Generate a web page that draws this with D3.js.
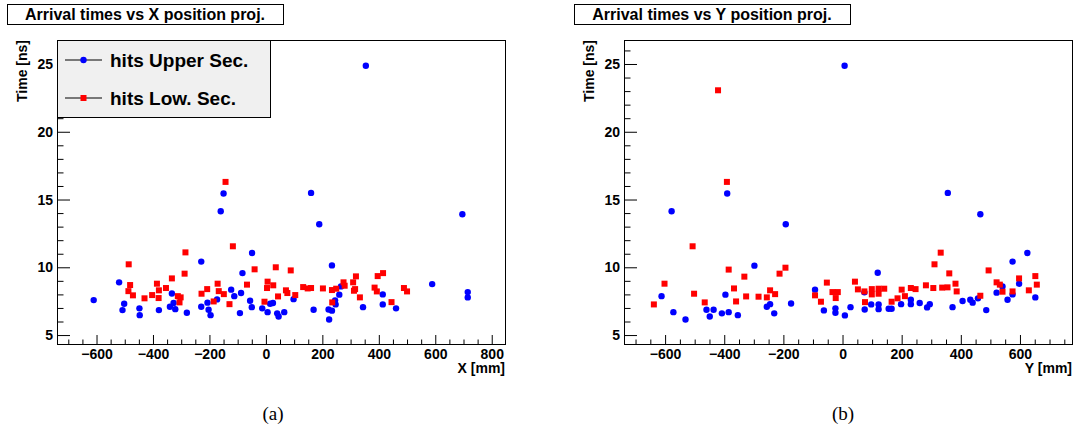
<!DOCTYPE html>
<html>
<head>
<meta charset="utf-8">
<script src="https://d3js.org/d3.v7.min.js"></script>
<style>
  body { margin: 0; background: #fff; }
  svg { display: block; font-family: "Liberation Sans", Arial, sans-serif; }
</style>
</head>
<body>
<svg width=1073 height=432></svg>
<script>
// (a) arrival time vs X projection: [x mm, time ns]
var upperX = [[-610,7.58],[-520,8.89],[-502,7.31],[-508,6.84],[-448,6.97],[-447,6.47],[-379,6.84],[-333,8.07],
  [-327,7.36],[-340,7.09],[-321,6.91],[-280,6.65],[-229,10.42],[-229,7.09],[-207,7.39],[-203,6.87],[-196,6.47],
  [-173,7.63],[-123,8.35],[-112,7.87],[-88,8.10],[-83,9.57],[-56,7.53],[-50,7.06],[-49,11.05],[-92,6.62],[-13,6.97],
  [6,6.69],[15,7.31],[25,7.36],[40,6.6],[45,6.37],[65,6.69],[98,7.65],[169,6.87],[234,10.14],[260,7.98],[266,8.59],
  [245,7.56],[247,7.26],[222,6.89],[234,6.80],[224,6.15],[344,7.06],[414,8.0],[414,7.26],[461,6.97],[589,8.76],
  [715,8.17],[715,7.78],[354,24.87],[160,15.49],[189,13.17],[696,13.91],[-160,14.14],[-150,15.44]]
var lowX = [[-117,11.55],[-285,11.10],[-486,10.22],[-288,9.53],[-40,9.85],[35,10.0],[-333,9.18],[-386,8.79],
  [-481,8.69],[-487,8.24],[-471,7.93],[-379,8.30],[-354,8.47],[-403,7.95],[-380,7.73],[-430,7.71],[-312,7.87],
  [-302,7.78],[-306,7.41],[-228,8.05],[-208,8.39],[-171,8.79],[-167,8.24],[-149,8.02],[-185,7.48],[-129,7.28],
  [-67,8.72],[6,8.94],[26,8.67],[4,8.47],[43,7.85],[-5,7.46],[-143,16.30],[88,9.77],[71,8.30],[76,8.10],[104,7.95],
  [132,8.54],[148,8.44],[160,8.47],[202,8.44],[234,8.32],[249,8.42],[235,7.41],[275,8.89],[279,8.64],[309,8.89],
  [319,9.33],[312,8.27],[316,8.39],[333,7.78],[385,8.50],[396,9.35],[415,9.57],[393,8.22],[445,7.43],[489,8.47],[500,8.22]]

// (b) arrival time vs Y projection: [y mm, time ns]
var upperY = [[7,24.87],[-390,15.44],[-578,14.14],[-192,13.17],[-298,10.12],[-612,7.87],[-572,6.69],[-531,6.15],
  [-460,6.87],[-436,6.87],[-449,6.37],[-408,6.60],[-385,6.69],[-354,6.47],[-396,7.98],[-256,7.09],[-245,7.28],
  [-231,6.60],[-174,7.33],[-93,8.35],[-63,6.82],[-24,6.97],[-24,6.65],[8,6.45],[27,7.06],[119,9.60],[74,8.15],
  [75,6.89],[97,7.26],[122,7.26],[122,6.91],[156,6.94],[166,6.94],[198,7.28],[231,7.61],[231,7.28],[261,7.36],
  [286,7.04],[295,7.28],[372,7.06],[406,7.51],[432,7.61],[440,7.39],[458,7.71],[486,6.84],[521,8.13],[541,8.59],
  [558,7.61],[575,8.0],[575,10.42],[597,8.79],[625,11.05],[652,7.78],[356,15.49],[466,13.91]]
var lowY = [[-421,23.06],[-391,16.30],[-507,11.55],[-193,9.97],[-385,9.83],[-332,9.31],[-213,9.53],[-602,8.79],
  [-502,8.05],[-638,7.26],[-466,7.41],[-367,8.44],[-360,7.48],[-326,7.85],[-284,7.83],[-256,7.78],[-245,8.30],
  [-228,8.02],[-93,7.93],[-73,7.46],[-53,8.87],[-34,8.17],[-16,8.17],[-23,7.73],[42,8.94],[52,8.37],[74,8.22],
  [76,7.43],[99,8.39],[99,8.0],[122,8.42],[122,8.05],[141,8.42],[166,7.46],[186,7.71],[200,8.35],[211,7.87],
  [231,8.47],[247,8.39],[282,8.67],[307,8.47],[332,11.08],[311,10.22],[337,8.50],[355,8.52],[361,9.55],[382,8.79],
  [386,8.22],[466,7.90],[494,9.77],[521,8.89],[532,8.72],[541,8.20],[575,8.22],[597,9.18],[630,8.30],[652,9.35],[657,8.72]]

var xMajorTicks = [-600, -400, -200, 0, 200, 400, 600, 800]
var yMajorTicks = [5, 10, 15, 20, 25]
var legendLabels = ["hits Upper Sec.", "hits Low. Sec."]

var svg = d3.select('svg')
var top0 = 40, bottom0 = 344

function panel(p) {
  var x = d3.scaleLinear().domain(p.xDomain).range([p.left, p.right])
  var y = d3.scaleLinear().domain([4.34, 26.77]).range([bottom0, top0])
  var g = svg.append('g')

  // minor ticks first
  var xMinor = d3.range(-700, p.xDomain[1], 50).filter(v => v % 200 != 0 && v > p.xDomain[0])
  g.append('g').attr('transform', 'translate(0,' + bottom0 + ')')
    .call(d3.axisBottom(x).tickValues(xMinor).tickSize(-4.5).tickFormat(''))
    .call(a => a.select('.domain').remove())
  var yMinor = d3.range(5, 27).filter(v => v % 5 != 0)
  g.append('g').attr('transform', 'translate(' + p.left + ',0)')
    .call(d3.axisLeft(y).tickValues(yMinor).tickSize(-6.5).tickFormat(''))
    .call(a => a.select('.domain').remove())

  // major ticks + labels
  g.append('g').attr('transform', 'translate(0,' + bottom0 + ')')
    .call(d3.axisBottom(x).tickValues(xMajorTicks.filter(v => v < p.xDomain[1])).tickSizeInner(-9).tickSizeOuter(0).tickPadding(5))
    .call(a => a.select('.domain').remove())
    .selectAll('text').attr('font-size', 14).attr('font-weight', 'bold')
    .attr('font-family', '"Liberation Sans", Arial, sans-serif').attr('fill', '#000')
  g.append('g').attr('transform', 'translate(' + p.left + ',0)')
    .call(d3.axisLeft(y).tickValues(yMajorTicks).tickSizeInner(-13).tickSizeOuter(0).tickPadding(4))
    .call(a => a.select('.domain').remove())
    .selectAll('text').attr('font-size', 14).attr('font-weight', 'bold')
    .attr('font-family', '"Liberation Sans", Arial, sans-serif').attr('fill', '#000')

  // frame
  g.append('rect')
    .attr('x', p.left + 0.5).attr('y', top0 + 0.5)
    .attr('width', p.right - p.left).attr('height', bottom0 - top0)
    .attr('fill', 'none').attr('stroke', 'black')

  // points: blue circles then red squares on top
  g.append('g').selectAll('circle').data(p.upper).join('circle')
    .attr('cx', d => x(d[0])).attr('cy', d => y(d[1])).attr('r', 3.2)
    .attr('fill', '#0000ff')
  g.append('g').selectAll('rect').data(p.low).join('rect')
    .attr('x', d => x(d[0]) - 3).attr('y', d => y(d[1]) - 3)
    .attr('width', 6).attr('height', 6)
    .attr('fill', '#ff0000')

  // axis titles
  g.append('text').attr('x', p.right).attr('y', 373)
    .attr('text-anchor', 'end').attr('font-size', 14).attr('font-weight', 'bold')
    .text(p.xTitle)
  g.append('text').attr('transform', 'translate(' + (p.left - 30) + ',' + top0 + ') rotate(-90)')
    .attr('text-anchor', 'end').attr('font-size', 14).attr('font-weight', 'bold')
    .text('Time [ns]')

  // title box
  g.append('rect').attr('x', p.left - 50 + 0.5).attr('y', 4.5).attr('width', 276).attr('height', 20)
    .attr('fill', 'white').attr('stroke', 'black')
  g.append('text').attr('x', p.left - 50 + 138).attr('y', 19.5)
    .attr('text-anchor', 'middle').attr('font-size', 16).attr('font-weight', 'bold')
    .text(p.title)

  // caption
  g.append('text').attr('x', p.caption[0]).attr('y', 420)
    .attr('text-anchor', 'middle').attr('font-size', 19)
    .attr('font-family', '"Liberation Serif", "Times New Roman", serif')
    .text(p.caption[1])
  return g
}

var ga = panel({ left: 57, right: 505, xDomain: [-740, 847], upper: upperX, low: lowX,
  xTitle: 'X [mm]', title: 'Arrival times vs X position proj.', caption: [273, '(a)'] })
panel({ left: 624, right: 1072, xDomain: [-739, 776], upper: upperY, low: lowY,
  xTitle: 'Y [mm]', title: 'Arrival times vs Y position proj.', caption: [843, '(b)'] })

// legend in panel (a)
var leg = ga.append('g')
leg.append('rect').attr('x', 57.5).attr('y', 40.5).attr('width', 213).attr('height', 77)
  .attr('fill', '#f0f0f0').attr('stroke', 'black')
var rows = [60, 98]
rows.forEach(function(ry, i) {
  leg.append('line').attr('x1', 65).attr('x2', 102).attr('y1', ry).attr('y2', ry)
    .attr('stroke', 'black')
  if (i == 0) {
    leg.append('circle').attr('cx', 83.5).attr('cy', ry).attr('r', 3.2).attr('fill', '#0000ff')
  } else {
    leg.append('rect').attr('x', 80.5).attr('y', ry - 3).attr('width', 6).attr('height', 6).attr('fill', '#ff0000')
  }
  leg.append('text').attr('x', 110).attr('y', ry + 6.5)
    .attr('font-size', 19).attr('font-weight', 'bold')
    .text(legendLabels[i])
})
</script>
</body>
</html>
